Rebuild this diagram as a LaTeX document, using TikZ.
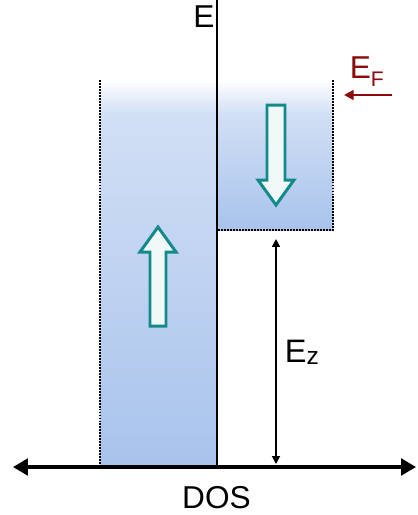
\documentclass[tikz,border=0pt]{standalone}
\usepackage{fontspec}
\setmainfont{Liberation Sans}
\usetikzlibrary{arrows.meta}

\definecolor{bandlight}{HTML}{D2DFF5}
\definecolor{banddark}{HTML}{A8C3EC}
\definecolor{spinteal}{HTML}{128A8A}
\definecolor{spinfill}{HTML}{F0F8F8}
\definecolor{fermired}{HTML}{8B0A0A}

\begin{document}
\begin{tikzpicture}[
    x=0.02cm, y=-0.02cm,
    axisline/.style={line width=1.8pt, {Triangle[length=8.5pt, width=9.5pt]}-{Triangle[length=8.5pt, width=9.5pt]}},
    edgeline/.style={line width=1.25pt, dash pattern=on 1.1pt off 0.6pt},
    spinarrow/.style={draw=spinteal, fill=spinfill, line width=1.7pt, line join=miter},
    gaparrow/.style={line width=1pt, {Triangle[length=4.5pt, width=4.5pt]}-{Triangle[length=4.5pt, width=4.5pt]}},
    fermiarrow/.style={draw=fermired, line width=1.5pt, -{Triangle[length=5.5pt, width=5.5pt]}},
    label/.style={inner sep=0pt, font=\fontsize{18}{20}\selectfont}
]
\useasboundingbox (0,0) rectangle (417,515);

% spin-up band (left)
\shade[top color=white, bottom color=bandlight] (100,80) rectangle (217,114);
\shade[top color=bandlight, bottom color=banddark] (100,114) rectangle (217,467);
% spin-down band (right)
\shade[top color=white, bottom color=bandlight] (217,80) rectangle (333,114);
\shade[top color=bandlight, bottom color=banddark] (217,114) rectangle (333,230);

% dotted band edges
\draw[edgeline] (100,80) -- (100,467);
\draw[edgeline] (333,80) -- (333,230) -- (217,230);

% spin arrows
\draw[spinarrow] (150,326) -- (150,252) -- (140,252) -- (158,227) -- (176,252)
    -- (166,252) -- (166,326) -- cycle;
\draw[spinarrow] (267,105) -- (285,105) -- (285,180) -- (294,180) -- (276,205)
    -- (258,180) -- (267,180) -- cycle;

% axes
\coordinate (etop) at (217,0);
\coordinate (eorigin) at (217,467);
\coordinate (dosleft) at (13,467);
\coordinate (dosright) at (416,467);
\draw[line width=1.5pt] (etop) -- (eorigin);
\draw[axisline] (dosleft) -- (dosright);

% labels
\node[label, anchor=base west] (elabel) at (193,27) {E};
\node[label, anchor=base] (doslabel) at (216.5,508) {DOS};

% Fermi level
\node[label, anchor=base west, text=fermired, font=\fontsize{18}{20}\selectfont] (eflabel) at (349.5,78)
    {E\raisebox{-5pt}{\fontsize{12}{12}\selectfont F}};
\coordinate (eftail) at (392,95);
\coordinate (eftip) at (344,95);
\draw[fermiarrow] (eftail) -- (eftip);

% Zeeman gap
\coordinate (gaptop) at (276,239);
\coordinate (gapbottom) at (276,464);
\draw[gaparrow] (gaptop) -- (gapbottom);
\node[label, anchor=base west, font=\fontsize{18.5}{20}\selectfont] (ezlabel) at (284.5,362)
    {E\raisebox{-1.7pt}{\fontsize{14}{14}\selectfont z}};

\end{tikzpicture}
\end{document}
